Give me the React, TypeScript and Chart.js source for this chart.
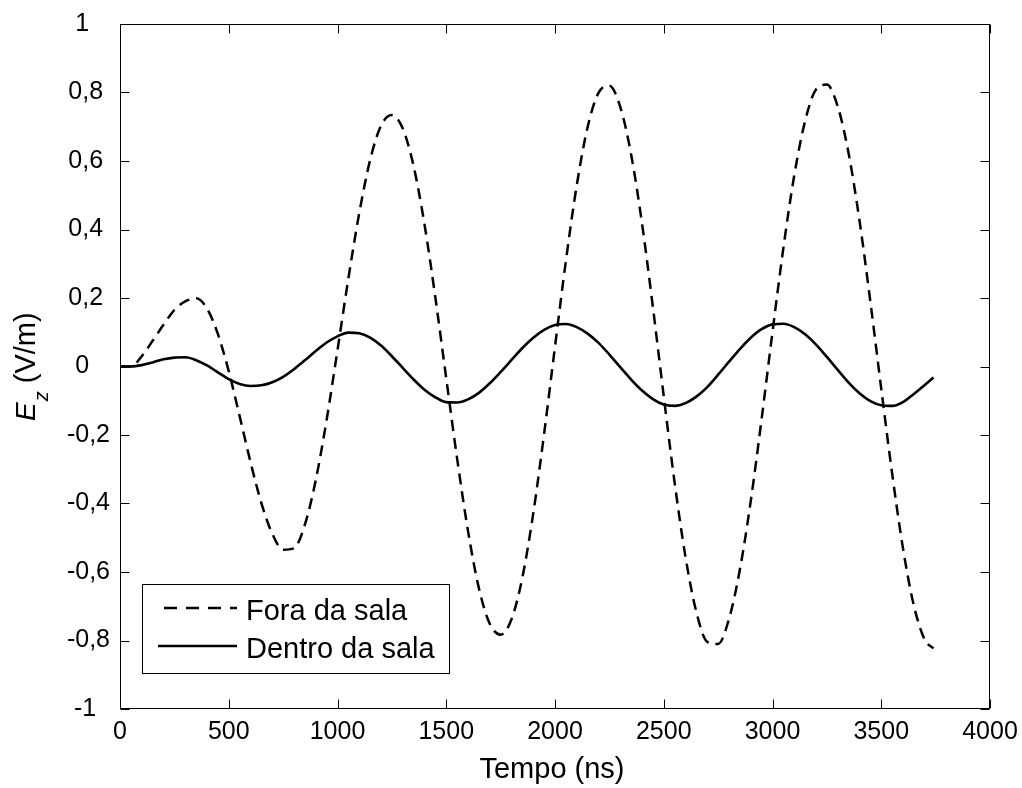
import React, { useEffect, useRef } from "react";
import { Chart, registerables } from "chart.js";

Chart.register(...registerables);

// Time axis (ns)
const timeNs = [
  0, 50, 100, 150, 200, 250, 300, 350, 400, 450,
  500, 550, 600, 650, 700, 750, 800, 850, 900, 950,
  1000, 1050, 1100, 1150, 1200, 1250, 1300, 1350, 1400, 1450,
  1500, 1550, 1600, 1650, 1700, 1750, 1800, 1850, 1900, 1950,
  2000, 2050, 2100, 2150, 2200, 2250, 2300, 2350, 2400, 2450,
  2500, 2550, 2600, 2650, 2700, 2750, 2800, 2850, 2900, 2950,
  3000, 3050, 3100, 3150, 3200, 3250, 3300, 3350, 3400, 3450,
  3500, 3550, 3600, 3650, 3700, 3740,
];

// Ez outside the room (V/m)
const foraDaSala = [
  0, 0, 0.03, 0.075, 0.122, 0.165, 0.19, 0.199, 0.169, 0.095,
  -0.014, -0.145, -0.279, -0.399, -0.488, -0.535, -0.531, -0.462, -0.332, -0.156,
  0.048, 0.257, 0.448, 0.603, 0.703, 0.734, 0.695, 0.585, 0.415, 0.201,
  -0.035, -0.269, -0.48, -0.647, -0.751, -0.783, -0.738, -0.616, -0.429, -0.196,
  0.058, 0.308, 0.529, 0.699, 0.799, 0.82, 0.758, 0.619, 0.418, 0.174,
  -0.087, -0.339, -0.556, -0.717, -0.804, -0.81, -0.737, -0.593, -0.393, -0.153,
  0.101, 0.346, 0.558, 0.717, 0.809, 0.823, 0.759, 0.622, 0.426, 0.189,
  -0.065, -0.312, -0.531, -0.698, -0.798, -0.823,
];

// Ez inside the room (V/m)
const dentroDaSala = [
  0, 0, 0.004, 0.012, 0.021, 0.026, 0.027, 0.0185, 0.003, -0.017,
  -0.037, -0.051, -0.057, -0.055, -0.046, -0.03, -0.008, 0.018, 0.045, 0.07,
  0.088, 0.099, 0.097, 0.084, 0.061, 0.03, -0.004, -0.038, -0.068, -0.09,
  -0.104, -0.105, -0.096, -0.077, -0.049, -0.016, 0.019, 0.054, 0.084, 0.107,
  0.121, 0.124, 0.115, 0.096, 0.069, 0.035, -0.002, -0.038, -0.07, -0.095,
  -0.111, -0.115, -0.107, -0.088, -0.06, -0.024, 0.014, 0.051, 0.084, 0.109,
  0.123, 0.125, 0.115, 0.094, 0.064, 0.028, -0.01, -0.047, -0.078, -0.101,
  -0.113, -0.115, -0.104, -0.08, -0.054, -0.032,
];

const seriesLabels = ["Fora da sala", "Dentro da sala"];
const xAxisTitle = "Tempo (ns)";
const yAxisTitleMain = "E";
const yAxisTitleSub = "z";
const yAxisTitleRest = " (V/m)";

const FONT = "'Liberation Sans', Arial, sans-serif";

function formatY(v: number): string {
  const r = Math.round(v * 10) / 10;
  const s = (Object.is(r, -0) ? 0 : r).toString().replace(".", ",");
  // MATLAB char-array labels are padded with trailing spaces to equal length
  return s.padEnd(4, " ");
}

function formatX(v: number): string {
  return String(Math.round(v));
}

const boxPlugin = {
  id: "matlabBox",
  afterDatasetsDraw(chart: any) {
    const { ctx, chartArea, scales } = chart;
    const { left, right, top, bottom } = chartArea;
    const xs = scales.x;
    const ys = scales.y;
    const L = Math.round(left) + 0.5;
    const R = Math.round(right) - 0.5;
    const T = Math.round(top) + 0.5;
    const B = Math.round(bottom) - 0.5;
    ctx.save();
    ctx.strokeStyle = "#000";
    ctx.lineWidth = 1;
    ctx.setLineDash([]);
    ctx.beginPath();
    ctx.rect(L, T, R - L, B - T);
    ctx.stroke();
    const tl = 9;
    ctx.beginPath();
    xs.ticks.forEach((t: any) => {
      const px = Math.round(xs.getPixelForValue(t.value)) + 0.5;
      ctx.moveTo(px, B);
      ctx.lineTo(px, B - tl);
      ctx.moveTo(px, T);
      ctx.lineTo(px, T + tl);
    });
    ys.ticks.forEach((t: any) => {
      const py = Math.round(ys.getPixelForValue(t.value)) + 0.5;
      ctx.moveTo(L, py);
      ctx.lineTo(L + tl, py);
      ctx.moveTo(R, py);
      ctx.lineTo(R - tl, py);
    });
    ctx.stroke();

    // Legend
    const bx = 142.5, by = 584.5, bw = 307, bh = 89;
    ctx.fillStyle = "#fff";
    ctx.fillRect(bx, by, bw, bh);
    ctx.strokeStyle = "#000";
    ctx.lineWidth = 1;
    ctx.strokeRect(bx, by, bw, bh);
    const ds = chart.data.datasets;
    const rows = [608, 646];
    ds.forEach((d: any, i: number) => {
      ctx.save();
      ctx.strokeStyle = d.borderColor;
      ctx.lineWidth = d.borderWidth;
      ctx.setLineDash(i === 0 ? [13, 9] : []);
      ctx.beginPath();
      ctx.moveTo(i === 0 ? 164 : 158, rows[i]);
      ctx.lineTo(237, rows[i]);
      ctx.stroke();
      ctx.restore();
      ctx.fillStyle = "#000";
      ctx.font = `29px ${FONT}`;
      ctx.textAlign = "left";
      ctx.textBaseline = "alphabetic";
      ctx.fillText(d.label, 246, rows[i] + 12);
    });

    // X axis title
    ctx.fillStyle = "#000";
    ctx.font = `29px ${FONT}`;
    ctx.textAlign = "center";
    ctx.textBaseline = "alphabetic";
    ctx.fillText(xAxisTitle, (left + right) / 2 - 3, 778);

    // Y axis title (rotated, with italic subscript)
    ctx.save();
    ctx.translate(35, 421);
    ctx.rotate(-Math.PI / 2);
    ctx.textAlign = "left";
    ctx.textBaseline = "alphabetic";
    ctx.font = `italic 28px ${FONT}`;
    ctx.fillText(yAxisTitleMain, 0, 0);
    let xoff = ctx.measureText(yAxisTitleMain).width + 1;
    ctx.font = `italic 20px ${FONT}`;
    ctx.fillText(yAxisTitleSub, xoff, 13);
    xoff += ctx.measureText(yAxisTitleSub).width;
    ctx.font = `29px ${FONT}`;
    ctx.fillText(yAxisTitleRest, xoff, 0);
    ctx.restore();

    ctx.restore();
  },
};

export default function App() {
  const canvasRef = useRef<HTMLCanvasElement | null>(null);

  useEffect(() => {
    document.body.style.margin = "0";
    const canvas = canvasRef.current;
    if (!canvas) return;
    const chart = new Chart(canvas, {
      type: "line",
      data: {
        datasets: [
          {
            label: seriesLabels[0],
            data: timeNs.map((t, i) => ({ x: t, y: foraDaSala[i] })),
            borderColor: "#000",
            borderWidth: 2.5,
            borderDash: [11, 7],
            pointRadius: 0,
            fill: false,
            cubicInterpolationMode: "monotone",
          },
          {
            label: seriesLabels[1],
            data: timeNs.map((t, i) => ({ x: t, y: dentroDaSala[i] })),
            borderColor: "#000",
            borderWidth: 2.6,
            pointRadius: 0,
            fill: false,
            cubicInterpolationMode: "monotone",
          },
        ],
      },
      options: {
        responsive: false,
        animation: false,
        devicePixelRatio: 1,
        layout: { padding: { top: 24, right: 32, left: 0, bottom: 0 } },
        plugins: {
          legend: { display: false },
          tooltip: { enabled: false },
          title: { display: false },
        },
        scales: {
          x: {
            type: "linear",
            min: 0,
            max: 4000,
            ticks: {
              stepSize: 500,
              autoSkip: false,
              maxRotation: 0,
              color: "#000",
              padding: 8,
              font: { family: FONT, size: 25 },
              callback: (v: any) => formatX(Number(v)),
            },
            grid: { display: false, drawTicks: false },
            border: { display: false },
            afterFit: (s: any) => {
              s.height = 79;
              s.paddingLeft = 0;
              s.paddingRight = 0;
            },
          },
          y: {
            type: "linear",
            min: -1,
            max: 1,
            ticks: {
              stepSize: 0.2,
              autoSkip: false,
              color: "#000",
              padding: 10,
              font: { family: FONT, size: 25 },
              callback: (v: any) => formatY(Number(v)),
            },
            grid: { display: false, drawTicks: false },
            border: { display: false },
            afterFit: (s: any) => {
              s.width = 120;
              s.paddingTop = 0;
              s.paddingBottom = 0;
            },
          },
        },
      },
      plugins: [boxPlugin],
    } as any);
    return () => chart.destroy();
  }, []);

  return (
    <div style={{ position: "absolute", left: 0, top: 0, width: 1022, height: 788, background: "#fff" }}>
      <canvas ref={canvasRef} width={1022} height={788} style={{ display: "block" }} />
    </div>
  );
}
